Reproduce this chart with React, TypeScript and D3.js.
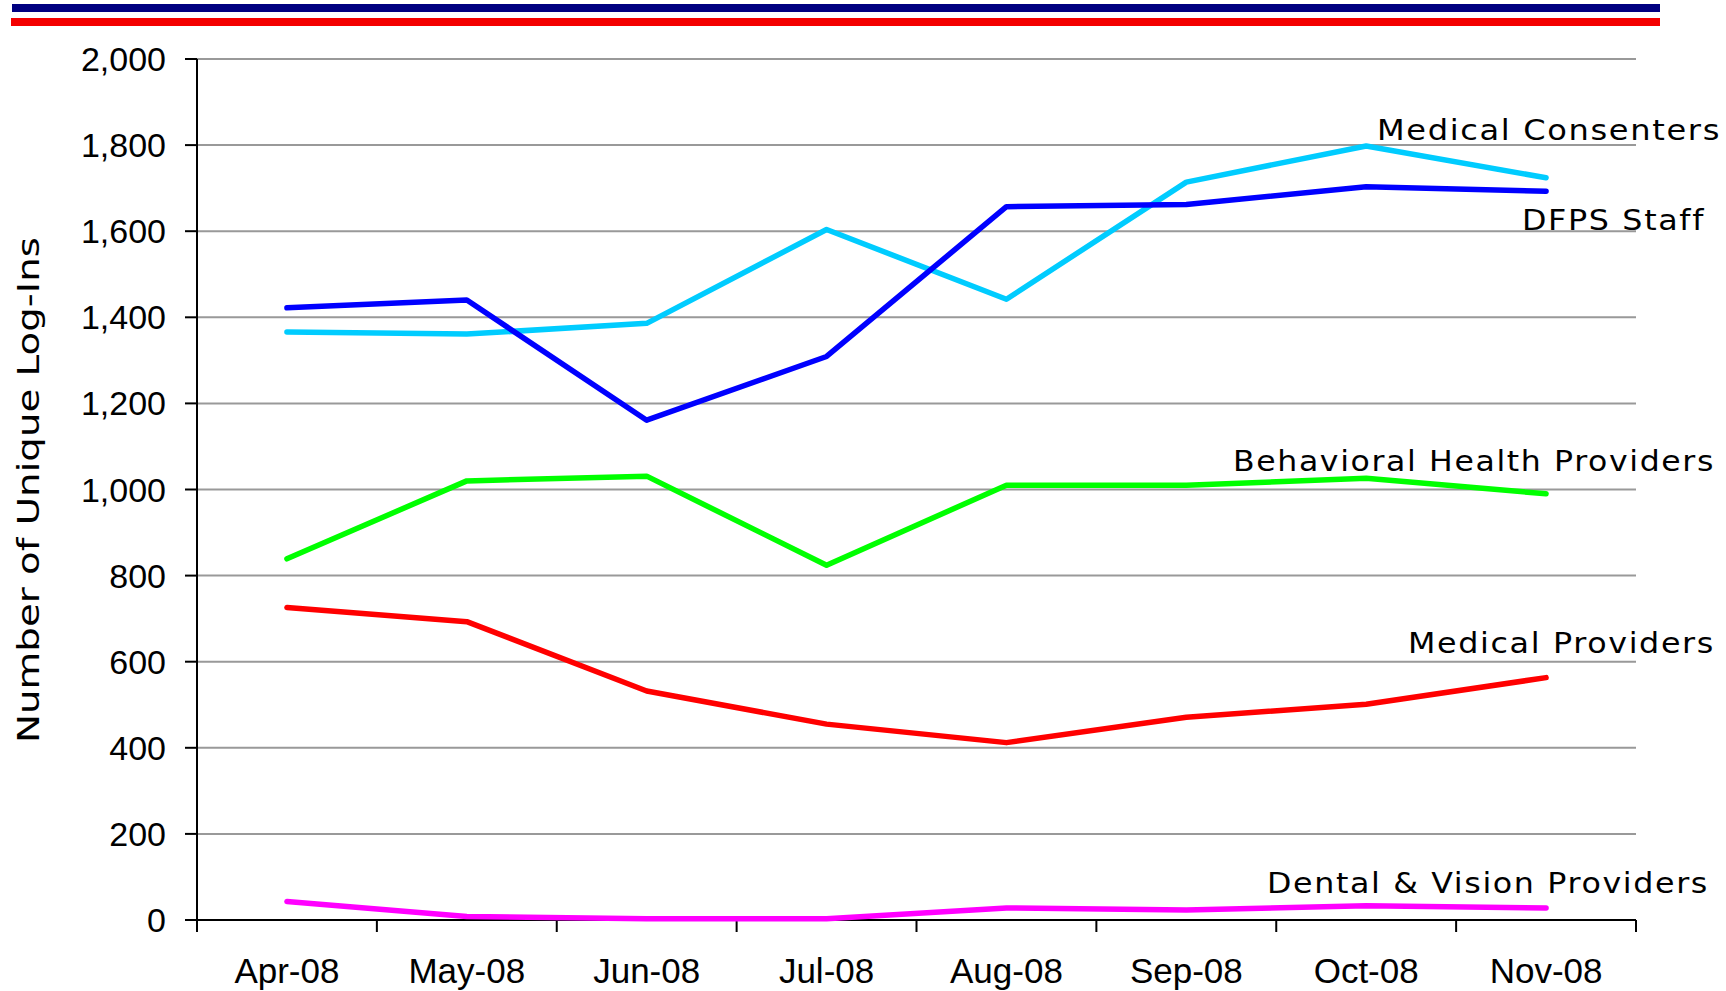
import React, { useEffect, useRef } from 'react';
import * as d3 from 'd3';

const months = ['Apr-08', 'May-08', 'Jun-08', 'Jul-08', 'Aug-08', 'Sep-08', 'Oct-08', 'Nov-08'];
const yTicks = [0, 200, 400, 600, 800, 1000, 1200, 1400, 1600, 1800, 2000];

const dfpsStaff = [1422, 1440, 1161, 1309, 1657, 1662, 1703, 1693];
const medicalConsenters = [1366, 1361, 1386, 1604, 1442, 1714, 1798, 1724];
const behavioralHealth = [839, 1020, 1031, 824, 1010, 1010, 1026, 990];
const medicalProviders = [726, 693, 532, 455, 412, 471, 501, 563];
const dentalVision = [43, 8, 3, 3, 28, 23, 33, 28];

const seriesNames = ['Medical Consenters', 'DFPS Staff', 'Behavioral Health Providers', 'Medical Providers', 'Dental & Vision Providers'];
const seriesValues = [medicalConsenters, dfpsStaff, behavioralHealth, medicalProviders, dentalVision];
const seriesColors = ['#00CCFF', '#0000FF', '#00FF00', '#FF0000', '#FF00FF'];

// label placement: [left x, baseline y, text length]
const labelBoxes = [
  [1377, 140, 344],
  [1522, 230, 183],
  [1233, 471, 482],
  [1408, 653, 307],
  [1267, 893, 442],
];

const W = 1726;
const H = 991;

export default function App() {
  const svgRef = useRef<SVGSVGElement>(null);

  useEffect(() => {
    if (!svgRef.current) return;
    const svg = d3.select(svgRef.current);
    svg.selectAll('*').remove();

    const left = 197;
    const right = 1636;
    const top = 59;
    const bottom = 920;

    // header bars
    svg.append('rect').attr('x', 12).attr('y', 4).attr('width', 1648).attr('height', 8).attr('fill', '#000080');
    svg.append('rect').attr('x', 11).attr('y', 18).attr('width', 1649).attr('height', 8).attr('fill', '#F40000');

    const x = d3.scaleBand().domain(months).range([left, right]);
    const y = d3.scaleLinear().domain([0, 2000]).range([bottom, top]);

    // gridlines
    svg.append('g')
      .selectAll('line')
      .data(yTicks.filter(t => t > 0))
      .enter()
      .append('line')
      .attr('x1', left)
      .attr('x2', right)
      .attr('y1', d => y(d))
      .attr('y2', d => y(d))
      .attr('stroke', '#999')
      .attr('stroke-width', 2);

    // y axis
    svg.append('line').attr('x1', left).attr('x2', left).attr('y1', top).attr('y2', bottom)
      .attr('stroke', '#000').attr('stroke-width', 2);
    svg.append('g')
      .selectAll('line')
      .data(yTicks)
      .enter()
      .append('line')
      .attr('x1', left - 12)
      .attr('x2', left)
      .attr('y1', d => y(d))
      .attr('y2', d => y(d))
      .attr('stroke', '#000')
      .attr('stroke-width', 2);
    svg.append('g')
      .selectAll('text')
      .data(yTicks)
      .enter()
      .append('text')
      .attr('x', 166)
      .attr('y', d => y(d) + 12)
      .attr('text-anchor', 'end')
      .attr('font-family', 'Liberation Sans, Arial, sans-serif')
      .attr('font-size', 34)
      .attr('fill', '#000')
      .text(d => d3.format(',')(d));

    // x axis
    svg.append('line').attr('x1', left).attr('x2', right).attr('y1', bottom).attr('y2', bottom)
      .attr('stroke', '#000').attr('stroke-width', 2);
    const edges = months.map(m => x(m)!).concat([right]);
    svg.append('g')
      .selectAll('line')
      .data(edges)
      .enter()
      .append('line')
      .attr('x1', d => d)
      .attr('x2', d => d)
      .attr('y1', bottom)
      .attr('y2', bottom + 12)
      .attr('stroke', '#000')
      .attr('stroke-width', 2);
    svg.append('g')
      .selectAll('text')
      .data(months)
      .enter()
      .append('text')
      .attr('x', d => x(d)! + x.bandwidth() / 2)
      .attr('y', 983)
      .attr('text-anchor', 'middle')
      .attr('font-family', 'Liberation Sans, Arial, sans-serif')
      .attr('font-size', 35)
      .attr('fill', '#000')
      .text(d => d);

    // y title
    svg.append('text')
      .attr('transform', `translate(39, 490) rotate(-90)`)
      .attr('text-anchor', 'middle')
      .attr('font-family', 'DejaVu Sans, Verdana, sans-serif')
      .attr('font-size', 31)
      .attr('textLength', 506)
      .attr('lengthAdjust', 'spacingAndGlyphs')
      .attr('fill', '#000')
      .text('Number of Unique Log-Ins');

    // lines
    const line = d3.line<number>()
      .x((_, i) => x(months[i])! + x.bandwidth() / 2)
      .y(d => y(d));

    const order = [3, 4, 2, 0, 1];
    order.forEach(i => {
      svg.append('path')
        .attr('d', line(seriesValues[i])!)
        .attr('fill', 'none')
        .attr('stroke', seriesColors[i])
        .attr('stroke-width', 5.5)
        .attr('stroke-linecap', 'round')
        .attr('stroke-linejoin', 'round');
    });

    // series labels
    seriesNames.forEach((name, i) => {
      const [lx, ly, len] = labelBoxes[i];
      svg.append('text')
        .attr('x', lx)
        .attr('y', ly)
        .attr('font-family', 'DejaVu Sans, Verdana, sans-serif')
        .attr('font-size', 29)
        .attr('letter-spacing', 1.5)
        .attr('textLength', len)
        .attr('lengthAdjust', 'spacingAndGlyphs')
        .attr('fill', '#000')
        .text(name);
    });
  }, []);

  return (
    <svg
      ref={svgRef}
      width={W}
      height={H}
      style={{ position: 'absolute', left: 0, top: 0, background: '#fff' }}
    />
  );
}
